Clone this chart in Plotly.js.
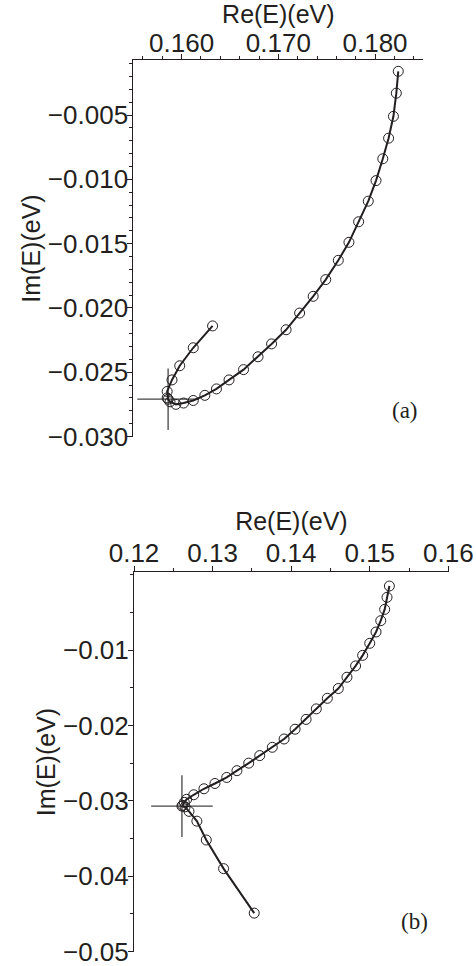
<!DOCTYPE html>
<html>
<head>
<meta charset="utf-8">
<script src="https://cdn.plot.ly/plotly-3.0.1.min.js"></script>
<style>html,body{margin:0;padding:0;background:#fff;}#chart{width:476px;height:966px;}</style>
</head>
<body>
<div id="chart"></div>
<script>
// Panel (a)
const aMainRe = [0.1824,0.1822,0.1819,0.1814,0.1808,0.1801,0.1793,0.1783,0.1773,0.1762,0.1749,0.1736,0.1722,0.1708,0.1693,0.1679,0.1664,0.1649,0.1636,0.1624,0.1612,0.1602,0.1594,0.1588,0.1585];
const aMainIm = [-0.0016,-0.0033,-0.0051,-0.0068,-0.0084,-0.0101,-0.0117,-0.0133,-0.0149,-0.0163,-0.0178,-0.0191,-0.0204,-0.0217,-0.0228,-0.0238,-0.0248,-0.0256,-0.0263,-0.0268,-0.0272,-0.0274,-0.0275,-0.0273,-0.0270];
const aBranchRe = [0.1586,0.1585,0.1590,0.1598,0.1612,0.1632];
const aBranchIm = [-0.0271,-0.0265,-0.0256,-0.0245,-0.0231,-0.0214];
const aEPRe = [0.1586];
const aEPIm = [-0.0271];

// Panel (b)
const bMainRe = [0.1525,0.1522,0.1519,0.1514,0.1508,0.1500,0.1491,0.1482,0.1471,0.1460,0.1446,0.1432,0.1419,0.1405,0.1391,0.1376,0.1360,0.1346,0.1331,0.1318,0.1303,0.1289,0.1276,0.1267,0.1264,0.1262];
const bMainIm = [-0.0015,-0.0030,-0.0046,-0.0061,-0.0076,-0.0091,-0.0107,-0.0121,-0.0136,-0.0151,-0.0164,-0.0178,-0.0192,-0.0205,-0.0218,-0.0229,-0.0240,-0.0250,-0.0260,-0.0269,-0.0277,-0.0284,-0.0292,-0.0298,-0.0302,-0.0306];
const bBranchRe = [0.1261,0.1265,0.1270,0.1280,0.1292,0.1314,0.1353];
const bBranchIm = [-0.0307,-0.0308,-0.0314,-0.0327,-0.0352,-0.0390,-0.0449];
const bEPRe = [0.1261];
const bEPIm = [-0.0307];

const aYTicks = [-0.005,-0.010,-0.015,-0.020,-0.025,-0.030];
const bYTicks = [-0.01,-0.02,-0.03,-0.04,-0.05];
const xTitle = 'Re(E)(eV)';
const yTitle = 'Im(E)(eV)';
const panelLabels = ['(a)','(b)'];

const ink = '#231f20';
const lineStyle = {color: ink, width: 2};
const markerStyle = {symbol: 'circle-open', size: 10, color: ink, line: {color: ink, width: 1}};
const crossStyle = {symbol: 'cross-thin-open', size: 44, color: '#444', line: {color: '#444', width: 1.3}};

function curve(x, y, xa, ya) {
  return {x, y, xaxis: xa, yaxis: ya, type: 'scatter', mode: 'lines+markers', line: lineStyle, marker: markerStyle, hoverinfo: 'skip'};
}
function ep(x, y, xa, ya) {
  return {x, y, xaxis: xa, yaxis: ya, type: 'scatter', mode: 'markers', marker: crossStyle, hoverinfo: 'skip'};
}

const data = [
  ep(aEPRe, aEPIm, 'x', 'y'),
  curve(aMainRe, aMainIm, 'x', 'y'),
  curve(aBranchRe, aBranchIm, 'x', 'y'),
  ep(bEPRe, bEPIm, 'x2', 'y2'),
  curve(bMainRe, bMainIm, 'x2', 'y2'),
  curve(bBranchRe, bBranchIm, 'x2', 'y2')
];

// plot area: margins t=40, b=6 -> area spans y 40..960
const M = {l: 0, r: 0, t: 40, b: 6};
const H = 966 - M.t - M.b;
const fy = py => (966 - M.b - py) / H;

const tickFont = {family: 'Liberation Sans, Arial, sans-serif', size: 26, color: ink};
const titleFont = {family: 'Liberation Sans, Arial, sans-serif', size: 25, color: ink};
const axBase = {
  showgrid: false, zeroline: false, showline: true, linecolor: ink, linewidth: 1,
  ticks: 'outside', ticklen: 5, tickwidth: 1, tickcolor: ink, tickfont: tickFont,
  fixedrange: true, automargin: false, ticklabeloverflow: 'allow'
};

const layout = {
  width: 476, height: 966,
  margin: M,
  paper_bgcolor: '#fff', plot_bgcolor: '#fff',
  showlegend: false,
  font: tickFont,
  xaxis: Object.assign({}, axBase, {
    domain: [133.3/476, 423.4/476], anchor: 'y', side: 'top',
    range: [0.155, 0.185], dtick: 0.01, tick0: 0, tickformat: '.3f', ticklabelstandoff: -8,
    minor: {dtick: 0.002, tick0: 0, ticklen: 3, tickcolor: ink, ticks: 'outside'},
    title: {text: xTitle, font: titleFont, standoff: 0}
  }),
  yaxis: Object.assign({}, axBase, {
    domain: [fy(437), fy(60)], anchor: 'x',
    range: [-0.03004, -0.00072], tickmode: 'array', tickvals: aYTicks, tickformat: '.3f', ticklabelstandoff: -6,
    minor: {dtick: 0.001, tick0: 0, ticklen: 3, tickcolor: ink, ticks: 'outside'},
    title: {text: yTitle, font: titleFont, standoff: 0}
  }),
  xaxis2: Object.assign({}, axBase, {
    domain: [134/476, 448.8/476], anchor: 'y2', side: 'top',
    range: [0.12, 0.16006], dtick: 0.01, tick0: 0, tickformat: '.2f', ticklabelstandoff: -7,
    minor: {dtick: 0.005, tick0: 0, ticklen: 3, tickcolor: ink, ticks: 'outside'},
    title: {text: xTitle, font: titleFont, standoff: 0}
  }),
  yaxis2: Object.assign({}, axBase, {
    domain: [fy(952.3), fy(571.7)], anchor: 'x2',
    range: [-0.05010, 0.0004], tickmode: 'array', tickvals: bYTicks, tickformat: '.2f', ticklabelstandoff: -6,
    minor: {dtick: 0.005, tick0: 0, ticklen: 3, tickcolor: ink, ticks: 'outside'},
    title: {text: yTitle, font: titleFont, standoff: 0}
  }),
  annotations: [
    {text: panelLabels[0], xref: 'paper', yref: 'paper', x: 405/476, y: fy(410), xanchor: 'center', yanchor: 'middle', showarrow: false,
     font: {family: 'Liberation Serif, Times New Roman, serif', size: 23, color: ink}},
    {text: panelLabels[1], xref: 'paper', yref: 'paper', x: 414/476, y: fy(921), xanchor: 'center', yanchor: 'middle', showarrow: false,
     font: {family: 'Liberation Serif, Times New Roman, serif', size: 23, color: ink}}
  ]
};

Plotly.newPlot('chart', data, layout, {staticPlot: true, displayModeBar: false});
</script>
</body>
</html>
